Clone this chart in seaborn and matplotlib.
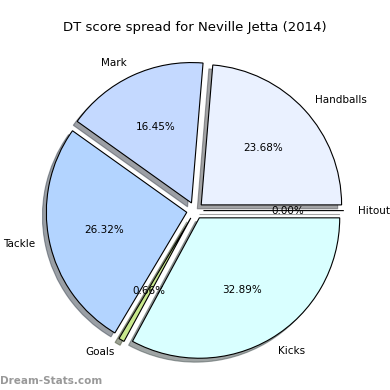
import matplotlib
matplotlib.use("Agg")
import matplotlib.pyplot as plt
import seaborn as sns

sns.set_style("white")

labels = ['Handballs', 'Mark', 'Tackle', 'Goals', 'Kicks', 'Hitout']
values = [36, 25, 40, 1, 50, 0]
colors = ['#eaf1ff', '#c4d9ff', '#b3d4ff', '#c8e88c', '#d9ffff', '#ffffff']

fig = plt.figure(figsize=(3.9, 3.9), dpi=100)
ax = fig.add_axes([0.05, 0.01, 0.9, 0.9])
wedges, texts, autotexts = ax.pie(
    values, labels=labels, colors=colors, autopct='%1.2f%%',
    explode=[0.06] * len(values), shadow=True, startangle=0,
    wedgeprops={'edgecolor': 'black', 'linewidth': 0.8},
    textprops={'fontsize': 7.5, 'color': 'black'}, labeldistance=1.1, pctdistance=0.6)
ax.set_aspect('equal')
fig.suptitle('DT score spread for Neville Jetta (2014)', fontsize=9.5, y=0.945, color='black')
fig.text(0.0, 0.015, 'Dream-Stats.com', fontsize=7.5, color='#999999', fontweight='bold')
fig.savefig('out.png', dpi=100)
